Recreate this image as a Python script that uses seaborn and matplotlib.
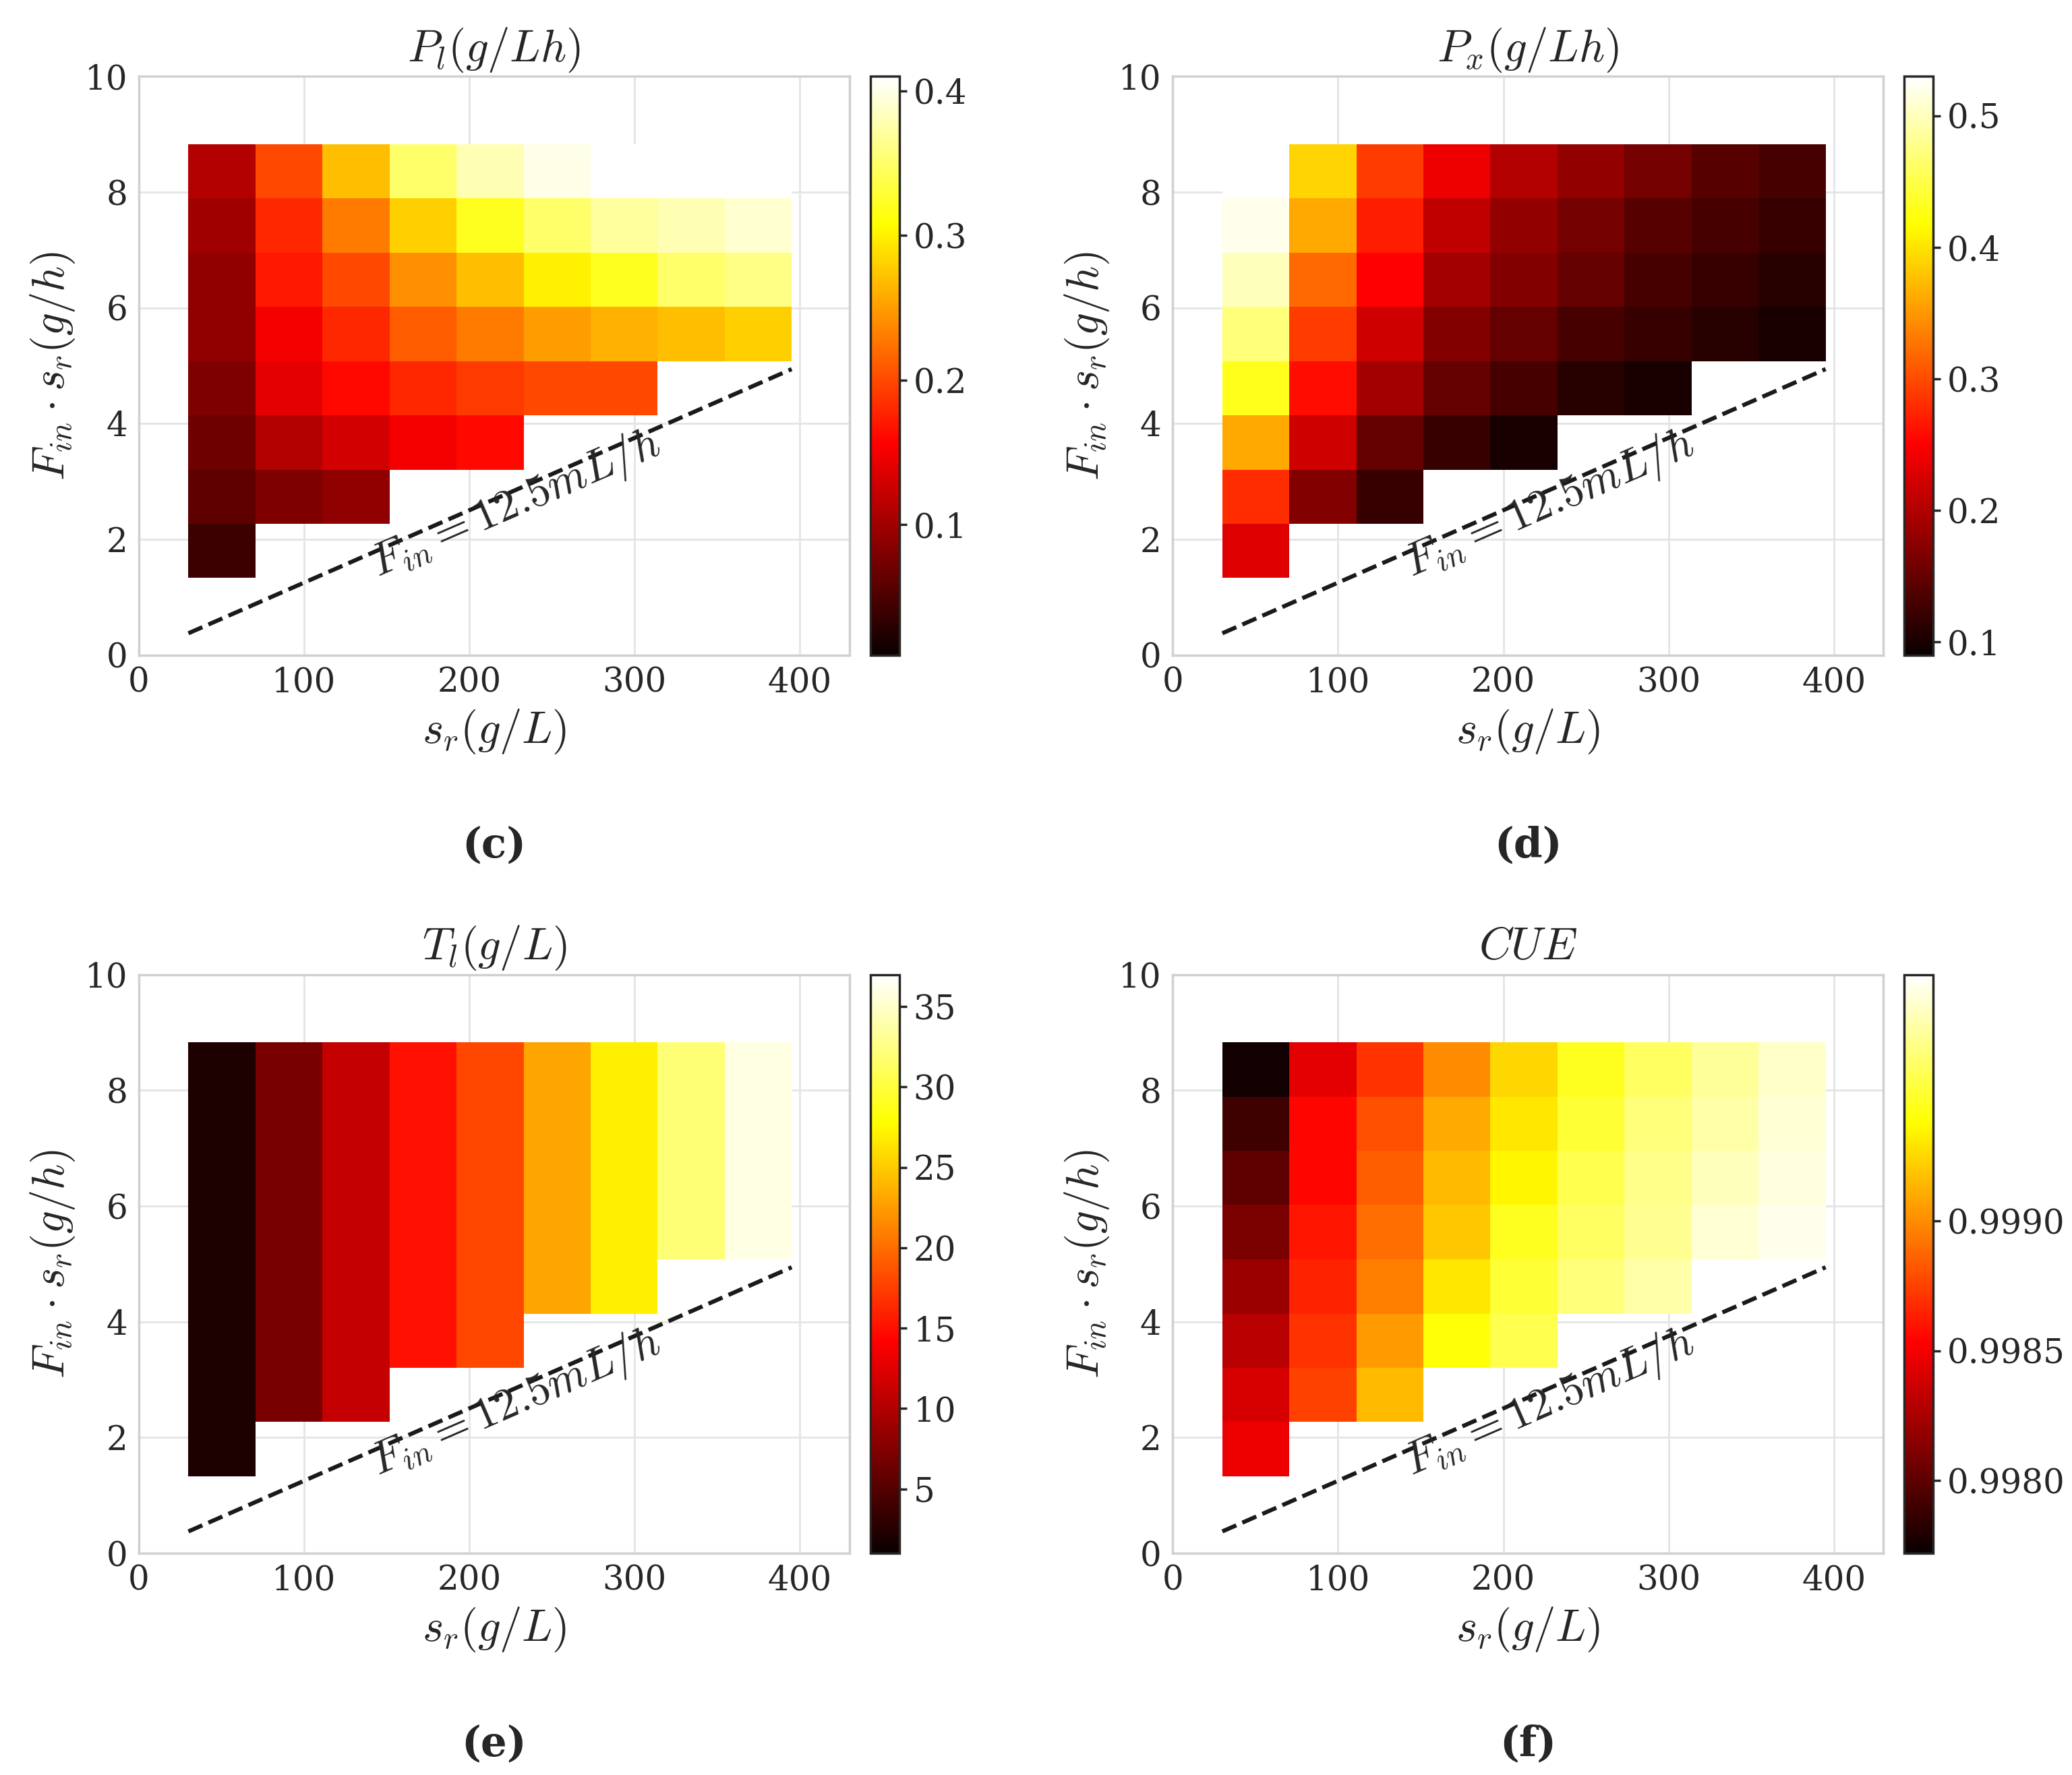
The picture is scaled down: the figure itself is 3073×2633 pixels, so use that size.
import numpy as np
import matplotlib
matplotlib.use("Agg")
import matplotlib.pyplot as plt
import seaborn as sns

nan = np.nan
# cell edges
s_edges = [30, 70.6, 111.1, 151.7, 192.2, 232.8, 273.3, 313.9, 354.4, 395]
f_edges = [1.33, 2.27, 3.2, 4.14, 5.08, 6.02, 6.95, 7.89, 8.83]

# rows from bottom (low F*s) to top
P_l = [
    [0.04, nan, nan, nan, nan, nan, nan, nan, nan],
    [0.06, 0.08, 0.09, nan, nan, nan, nan, nan, nan],
    [0.07, 0.11, 0.13, 0.15, 0.16, nan, nan, nan, nan],
    [0.08, 0.14, 0.16, 0.18, 0.19, 0.20, 0.20, nan, nan],
    [0.09, 0.15, 0.18, 0.21, 0.23, 0.25, 0.26, 0.27, 0.28],
    [0.09, 0.17, 0.20, 0.24, 0.27, 0.30, 0.32, 0.35, 0.36],
    [0.10, 0.18, 0.23, 0.28, 0.32, 0.35, 0.37, 0.38, 0.39],
    [0.11, 0.20, 0.27, 0.35, 0.38, 0.40, 0.41, 0.42, 0.43],
]
P_x = [
    [0.23, nan, nan, nan, nan, nan, nan, nan, nan],
    [0.28, 0.17, 0.12, nan, nan, nan, nan, nan, nan],
    [0.36, 0.22, 0.15, 0.12, 0.10, nan, nan, nan, nan],
    [0.43, 0.26, 0.19, 0.15, 0.13, 0.11, 0.10, nan, nan],
    [0.47, 0.29, 0.22, 0.17, 0.15, 0.13, 0.12, 0.11, 0.10],
    [0.50, 0.32, 0.25, 0.19, 0.17, 0.15, 0.13, 0.12, 0.11],
    [0.52, 0.36, 0.27, 0.21, 0.18, 0.16, 0.14, 0.13, 0.12],
    [0.54, 0.39, 0.29, 0.24, 0.20, 0.18, 0.16, 0.14, 0.13],
]
T_col = [2, 7, 11, 15, 18, 23, 27, 32, 36]
T_start = [0, 1, 1, 2, 2, 3, 3, 4, 4]
T_l = [[T_col[j] if i >= T_start[j] else nan for j in range(9)] for i in range(8)]
CUE = [
    [0.99848, nan, nan, nan, nan, nan, nan, nan, nan],
    [0.99840, 0.99875, 0.99915, nan, nan, nan, nan, nan, nan],
    [0.99830, 0.99870, 0.99905, 0.99940, 0.99955, nan, nan, nan, nan],
    [0.99820, 0.99865, 0.99895, 0.99930, 0.99950, 0.99965, 0.99975, nan, nan],
    [0.99810, 0.99860, 0.99890, 0.99920, 0.99945, 0.99960, 0.99970, 0.99985, 0.99990],
    [0.99800, 0.99855, 0.99885, 0.99915, 0.99935, 0.99955, 0.99968, 0.99980, 0.99988],
    [0.99790, 0.99855, 0.99880, 0.99910, 0.99930, 0.99950, 0.99965, 0.99975, 0.99985],
    [0.99775, 0.99845, 0.99870, 0.99900, 0.99925, 0.99945, 0.99960, 0.99972, 0.99982],
]

panels = [
    (P_l, r"$P_l(g/Lh)$", (0.01, 0.41), [0.1, 0.2, 0.3, 0.4], "(c)"),
    (P_x, r"$P_x(g/Lh)$", (0.09, 0.53), [0.1, 0.2, 0.3, 0.4, 0.5], "(d)"),
    (T_l, r"$T_l(g/L)$", (1, 37), [5, 10, 15, 20, 25, 30, 35], "(e)"),
    (CUE, r"$CUE$", (0.99772, 0.99995), [0.998, 0.9985, 0.999], "(f)"),
]
positions = [(0.067, 0.631), (0.566, 0.631), (0.067, 0.125), (0.566, 0.125)]

sns.set_theme(style="whitegrid", rc={"grid.color": "#e4e4e4", "axes.edgecolor": "#d0d0d0"})
plt.rcParams["mathtext.fontset"] = "cm"
plt.rcParams["font.family"] = "DejaVu Serif"

fig = plt.figure(figsize=(15.365, 13.165), dpi=200)
for (data, title, clim, cticks, tag), (x0, y0) in zip(panels, positions):
    ax = fig.add_axes([x0, y0, 0.343, 0.326])
    cax = fig.add_axes([x0 + 0.353, y0, 0.014, 0.326])
    m = ax.pcolormesh(s_edges, f_edges, np.array(data), cmap="hot",
                      vmin=clim[0], vmax=clim[1], zorder=2)
    ax.plot([30, 395], [0.375, 4.94], "k--", lw=2.2, zorder=3)
    ax.text(228, 2.6, r"$F_{in} = 12.5mL/h$", rotation=23.5, ha="center",
            va="center", fontsize=24, zorder=4)
    ax.set_xlim(0, 430)
    ax.set_ylim(0, 10)
    ax.set_xticks([0, 100, 200, 300, 400])
    ax.set_yticks([0, 2, 4, 6, 8, 10])
    ax.tick_params(labelsize=18, colors="#262626", length=0, pad=6)
    ax.set_title(title, fontsize=24, pad=8)
    ax.set_xlabel(r"$s_r(g/L)$", fontsize=24)
    ax.set_ylabel(r"$F_{in}\cdot s_r(g/h)$", fontsize=24)
    cb = fig.colorbar(m, cax=cax, ticks=cticks)
    cb.ax.tick_params(labelsize=18, length=4)
    cb.outline.set_edgecolor("#262626")
    ax.text(0.5, -0.33, tag, transform=ax.transAxes, ha="center", va="center",
            fontsize=22, fontweight="bold")

fig.savefig("out.png", dpi=200)
